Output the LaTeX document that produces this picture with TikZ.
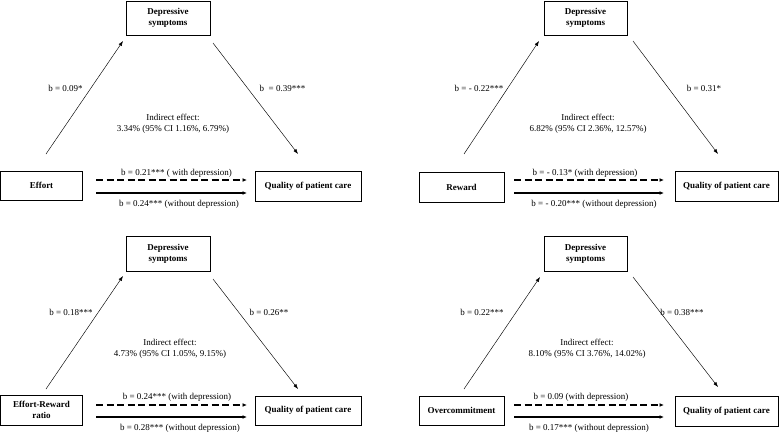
\documentclass[tikz,border=0pt]{standalone}
\usepackage{fontspec}
\setmainfont{Liberation Serif}
\usetikzlibrary{arrows.meta}
\tikzset{
  box/.style={draw, line width=0.9pt, minimum width=#1, align=center, font=\fontsize{9}{11}\selectfont\bfseries, inner sep=0pt},
  lab/.style={inner sep=0pt, align=center, font=\fontsize{9}{11}\selectfont},
  diag/.style={line width=0.45pt, -{Latex[length=5pt,width=3.6pt]}},
  hsolid/.style={line width=1.25pt, -{Latex[length=4.5pt,width=3.8pt]}},
  hdash/.style={line width=1.25pt, dash pattern=on 7pt off 3.5pt, -{Latex[length=4.5pt,width=3.8pt]}},
}
\begin{document}
\begin{tikzpicture}[x=1pt,y=-1pt]
\useasboundingbox (0,0) rectangle (779,434);
% ---------- Panel 1 ----------
\node[box=84pt, minimum height=34pt] (d1) at (168,18) {Depressive\\symptoms};
\node[box=82pt, minimum height=29pt] (x1) at (41.5,185.5) {Effort};
\node[box=106pt, minimum height=30pt] (q1) at (308,186) {Quality of patient care};
\coordinate (a1s) at (46,154); \coordinate (a1e) at (123,41);
\coordinate (b1s) at (213,43); \coordinate (b1e) at (298,154);
\draw[diag] (a1s) -- (a1e);
\draw[diag] (b1s) -- (b1e);
\coordinate (c1s) at (96,180); \coordinate (c1e) at (247,180);
\coordinate (e1s) at (96,193); \coordinate (e1e) at (247,193);
\draw[hdash] (c1s) -- (c1e);
\draw[hsolid] (e1s) -- (e1e);
\node[lab] (l1a) at (65.5,88) {b = 0.09*};
\node[lab] (l1b) at (282.5,88) {b \ = 0.39***};
\node[lab] (l1c) at (173,123.5) {Indirect effect:\\3.34\% (95\% CI 1.16\%, 6.79\%)};
\node[lab] (l1d) at (176.5,173) {b = 0.21*** ( with depression)};
\node[lab] (l1e) at (179,204) {b = 0.24*** (without depression)};
% ---------- Panel 2 ----------
\node[box=83pt, minimum height=34pt] (d2) at (585.5,18) {Depressive\\symptoms};
\node[box=85pt, minimum height=30pt] (x2) at (461.5,187) {Reward};
\node[box=103pt, minimum height=30pt] (q2) at (726.5,186) {Quality of patient care};
\coordinate (a2s) at (464,154); \coordinate (a2e) at (539,41);
\coordinate (b2s) at (633,41); \coordinate (b2e) at (718,154);
\draw[diag] (a2s) -- (a2e);
\draw[diag] (b2s) -- (b2e);
\coordinate (c2s) at (514,180); \coordinate (c2e) at (664,180);
\coordinate (e2s) at (514,193); \coordinate (e2e) at (664,193);
\draw[hdash] (c2s) -- (c2e);
\draw[hsolid] (e2s) -- (e2e);
\node[lab] (l2a) at (479,88) {b = - 0.22***};
\node[lab] (l2b) at (704,88) {b = 0.31*};
\node[lab] (l2c) at (588,123.5) {Indirect effect:\\6.82\% (95\% CI 2.36\%, 12.57\%)};
\node[lab] (l2d) at (585,173) {b = - 0.13* (with depression)};
\node[lab] (l2e) at (594,204) {b = - 0.20*** (without depression)};
% ---------- Panel 3 ----------
\node[box=84pt, minimum height=35pt] (d3) at (168,253.5) {Depressive\\symptoms};
\node[box=82pt, minimum height=30pt] (x3) at (41.5,410) {Effort-Reward\\ratio};
\node[box=106pt, minimum height=29pt] (q3) at (308,410.5) {Quality of patient care};
\coordinate (a3s) at (46,389); \coordinate (a3e) at (123,276);
\coordinate (b3s) at (213,279); \coordinate (b3e) at (298,389);
\draw[diag] (a3s) -- (a3e);
\draw[diag] (b3s) -- (b3e);
\coordinate (c3s) at (96,405); \coordinate (c3e) at (247,405);
\coordinate (e3s) at (96,417); \coordinate (e3e) at (247,417);
\draw[hdash] (c3s) -- (c3e);
\draw[hsolid] (e3s) -- (e3e);
\node[lab] (l3a) at (71,312) {b = 0.18***};
\node[lab] (l3b) at (269,312) {b = 0.26**};
\node[lab] (l3c) at (170,348.5) {Indirect effect:\\4.73\% (95\% CI 1.05\%, 9.15\%)};
\node[lab] (l3d) at (177,397) {b = 0.24*** (with depression)};
\node[lab] (l3e) at (180,428) {b = 0.28*** (without depression)};
% ---------- Panel 4 ----------
\node[box=83pt, minimum height=35pt] (d4) at (585.5,253.5) {Depressive\\symptoms};
\node[box=85pt, minimum height=29pt] (x4) at (461.5,410.5) {Overcommitment};
\node[box=103pt, minimum height=30pt] (q4) at (726.5,411) {Quality of patient care};
\coordinate (a4s) at (464,389); \coordinate (a4e) at (540,277);
\coordinate (b4s) at (633,277); \coordinate (b4e) at (718,387);
\draw[diag] (a4s) -- (a4e);
\draw[diag] (b4s) -- (b4e);
\coordinate (c4s) at (514,405); \coordinate (c4e) at (664,405);
\coordinate (e4s) at (514,417); \coordinate (e4e) at (664,417);
\draw[hdash] (c4s) -- (c4e);
\draw[hsolid] (e4s) -- (e4e);
\node[lab] (l4a) at (482,312) {b = 0.22***};
\node[lab] (l4b) at (682,312) {b = 0.38***};
\node[lab] (l4c) at (587,348.5) {Indirect effect:\\8.10\% (95\% CI 3.76\%, 14.02\%)};
\node[lab] (l4d) at (581,397) {b = 0.09 (with depression)};
\node[lab] (l4e) at (589,428) {b = 0.17*** (without depression)};
\end{tikzpicture}
\end{document}
